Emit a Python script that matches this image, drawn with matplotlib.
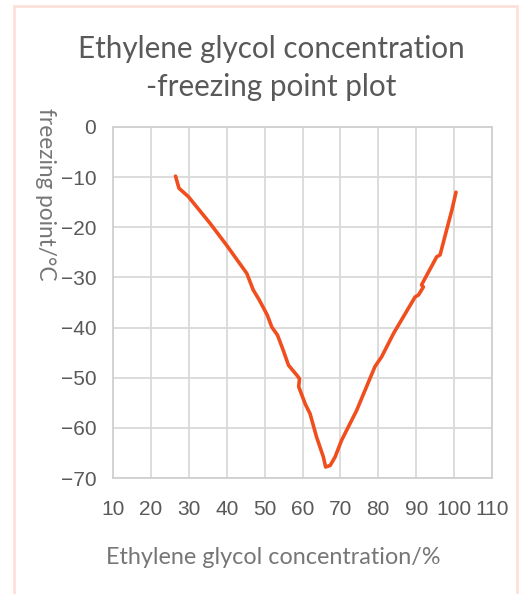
import matplotlib
matplotlib.use("Agg")
import matplotlib.pyplot as plt
from matplotlib.patches import Rectangle

concentration = [26.5, 27.4, 29.9, 35.6, 40.0, 45.3, 47.0, 48.6, 50.7, 51.9, 53.4, 54.9,
                 56.3, 58.5, 59.2, 59.0, 60.7, 62.0, 63.7, 65.5, 66.1, 67.3, 68.6, 70.3,
                 74.3, 79.1, 80.9, 84.0, 89.7, 90.6, 91.9, 91.4, 95.4, 96.3, 98.0, 99.4, 100.5]
freezing_point = [-9.8, -12.2, -13.9, -19.2, -23.6, -29.2, -32.5, -34.5, -37.5, -39.9, -41.5, -44.5,
                  -47.5, -49.5, -50.2, -51.8, -55.2, -57.2, -61.8, -65.8, -67.8, -67.5, -65.8, -62.5,
                  -56.5, -47.8, -45.8, -41.2, -33.9, -33.5, -31.9, -31.5, -25.9, -25.5, -20.6, -16.6, -13.0]
x_ticks = [10, 20, 30, 40, 50, 60, 70, 80, 90, 100, 110]
y_ticks = [0, -10, -20, -30, -40, -50, -60, -70]

fig = plt.figure(figsize=(5.2, 5.94), dpi=100)
fig.patch.set_facecolor("white")
fig.patches.append(Rectangle((14/520, -0.05), (517-14)/520, (588/594) + 0.05,
                             transform=fig.transFigure, fill=False,
                             edgecolor="#FCE0DA", linewidth=2))

ax = fig.add_axes([113/520, 1-478/594, (492-113)/520, (478-127)/594])
ax.plot(concentration, freezing_point, color="#F04E1E", linewidth=2.6, solid_capstyle="round")
ax.set_xlim(10, 110)
ax.set_ylim(-70, 0)
ax.set_xticks(x_ticks)
ax.set_yticks(y_ticks)
ax.set_xticklabels([str(v) for v in x_ticks], family="Liberation Sans", fontsize=15, color="#595959")
ax.set_yticklabels([f"{v}".replace("-", "\u2212") for v in y_ticks], family="Liberation Sans",
                   fontsize=15, color="#595959")
ax.grid(True, color="#D9D9D9", linewidth=1.3)
ax.set_axisbelow(True)
for s in ax.spines.values():
    s.set_color("#D0D0D0")
    s.set_linewidth(1.3)
ax.tick_params(length=0)
ax.tick_params(axis="y", pad=12)
ax.tick_params(axis="x", pad=16)

fig.text(271/520, 1-68/594, "Ethylene glycol concentration\n-freezing point plot",
         ha="center", va="center", fontsize=21.3, color="#595959", family="Lato",
         linespacing=1.45)
fig.text(45/520, 1-194/594, "freezing point/\u00b0C", rotation=-90, ha="center", va="center",
         fontsize=16.3, color="#767676", family="Lato")
fig.text(273/520, 1-557/594, "Ethylene glycol concentration/%", ha="center", va="center",
         fontsize=16.8, color="#767676", family="Lato")

fig.savefig("out.png", dpi=100)
